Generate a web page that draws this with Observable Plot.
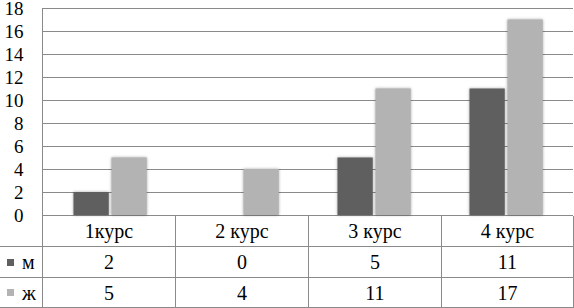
<!DOCTYPE html>
<html>
<head>
<meta charset="utf-8">
<script src="https://cdn.jsdelivr.net/npm/d3@7"></script>
<script src="https://cdn.jsdelivr.net/npm/@observablehq/plot@0.6"></script>
<style>
  html, body { margin: 0; padding: 0; background: #fff; }
  #wrap { position: relative; width: 574px; height: 308px; overflow: hidden; font-family: 'Liberation Serif'; }
  #wrap svg { display: block; overflow: visible; font-family: 'Liberation Serif' !important; }
  #wrap svg text, #wrap svg g { font-family: 'Liberation Serif' !important; }
  .chart g[aria-label="bar"] rect { filter: drop-shadow(0 0 1.5px rgba(0,0,0,0.35)); }
  #tbl { position: absolute; left: 0; top: 216px; display: grid;
         grid-template-columns: 43px 133px 133px 133px 132px;
         grid-template-rows: 31px 31px 30px; }
  #tbl div { box-sizing: border-box; border-right: 1px solid #8a8a8a; border-bottom: 1px solid #8a8a8a;
             display: flex; align-items: center; justify-content: center;
             font-family: 'Liberation Serif' !important;
             font-size: 20px; color: #000; line-height: 1; }
  #tbl div.lg { justify-content: flex-start; padding-left: 7px; }
  #tbl div.lg span.sw { display: inline-block; width: 7px; height: 7px; margin-right: 8px; }
</style>
</head>
<body>
<div id="wrap"></div>
<script>
const categories = ["1курс", "2 курс", "3 курс", "4 курс"];
const seriesNames = ["м", "ж"];
const valuesM = [2, 0, 5, 11];
const valuesF = [5, 4, 11, 17];
const yTicks = [0, 2, 4, 6, 8, 10, 12, 14, 16, 18];
const colors = {"м": "#5f5f5f", "ж": "#b3b3b3"};

const rowsM = categories.map((c, i) => ({cat: c, sex: "м", value: valuesM[i]}));
const rowsF = categories.map((c, i) => ({cat: c, sex: "ж", value: valuesF[i]}));

const W = 574, mL = 42, mR = 1;
const band = (W - mL - mR) / categories.length;
const outer = 29.5, barW = 36, gap = 2;

const chart = Plot.plot({
  width: W,
  height: 216,
  marginLeft: mL,
  marginRight: mR,
  marginTop: 8,
  marginBottom: 1,
  className: "chart",
  style: {fontFamily: "'Liberation Serif'", fontSize: "19px", color: "#000", background: "#fff", overflow: "visible"},
  x: {domain: categories, padding: 0, axis: null},
  y: {domain: [0, 18], axis: null, label: null},
  marks: [
    Plot.gridY(yTicks, {stroke: "#8a8a8a", strokeOpacity: 1}),
    Plot.frame({anchor: "left", stroke: "#8a8a8a"}),
    Plot.axisY(yTicks, {tickSize: 0, tickPadding: 19, fontSize: 19, fill: "#000", label: null}),
    Plot.barY(rowsM.filter(d => d.value > 0), {x: "cat", y: "value", fill: colors["м"],
      insetLeft: outer, insetRight: band - outer - barW}),
    Plot.barY(rowsF.filter(d => d.value > 0), {x: "cat", y: "value", fill: colors["ж"],
      insetLeft: outer + barW + gap, insetRight: band - outer - 2 * barW - gap})
  ]
});

const wrap = document.getElementById("wrap");
wrap.appendChild(chart);

const tbl = document.createElement("div");
tbl.id = "tbl";
const cell = (html, cls) => { const d = document.createElement("div"); if (cls) d.className = cls; d.innerHTML = html; tbl.appendChild(d); };
cell("");
categories.forEach(c => cell(c));
[[seriesNames[0], valuesM], [seriesNames[1], valuesF]].forEach(([name, vals]) => {
  cell(`<span class="sw" style="background:${colors[name]}"></span>${name}`, "lg");
  vals.forEach(v => cell(String(v)));
});
wrap.appendChild(tbl);
</script>
</body>
</html>
